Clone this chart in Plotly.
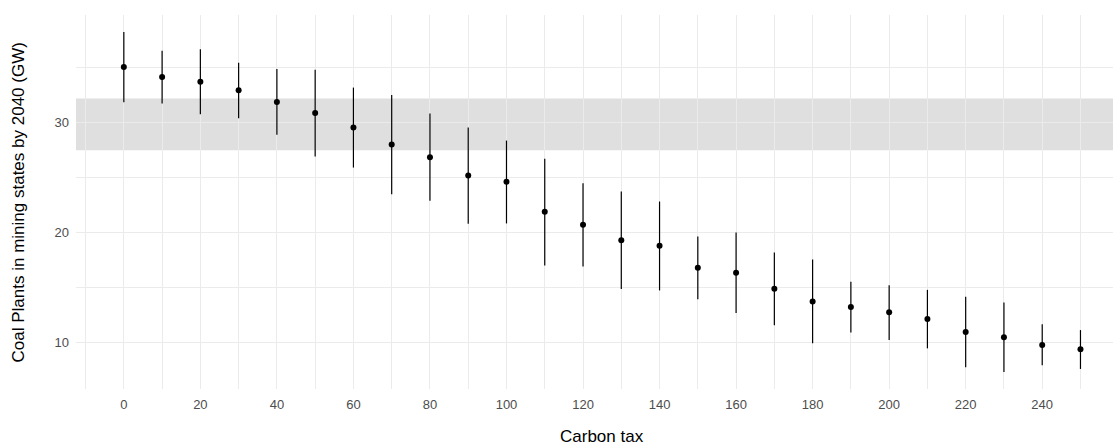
import plotly.graph_objects as go

# Carbon tax levels ($/t) and coal capacity estimates with uncertainty bounds
carbon_tax = [0, 10, 20, 30, 40, 50, 60, 70, 80, 90, 100, 110, 120, 130,
              140, 150, 160, 170, 180, 190, 200, 210, 220, 230, 240, 250]
coal_gw = [35.02, 34.11, 33.69, 32.90, 31.85, 30.85, 29.52, 27.98, 26.83,
           25.17, 24.60, 21.88, 20.70, 19.30, 18.79, 16.80, 16.35, 14.90,
           13.74, 13.23, 12.75, 12.14, 10.96, 10.48, 9.78, 9.39]
coal_low = [31.81, 31.70, 30.73, 30.36, 28.88, 26.89, 25.89, 23.47, 22.87,
            20.79, 20.82, 17.01, 16.92, 14.86, 14.74, 13.93, 12.68, 11.57,
            9.94, 10.93, 10.24, 9.48, 7.76, 7.33, 7.94, 7.61]
coal_high = [38.20, 36.50, 36.62, 35.41, 34.84, 34.78, 33.15, 32.48, 30.79,
             29.52, 28.34, 26.68, 24.47, 23.72, 22.81, 19.64, 20.00, 18.19,
             17.55, 15.53, 15.20, 14.79, 14.17, 13.65, 11.66, 11.14]

# Reference band for current capacity
band_low, band_high = 27.46, 32.15

x_ticks = [0, 20, 40, 60, 80, 100, 120, 140, 160, 180, 200, 220, 240]
x_minor = [-10, 10, 30, 50, 70, 90, 110, 130, 150, 170, 190, 210, 230, 250]
y_ticks = [10, 20, 30]
y_minor = [15, 25, 35]

x_title = "Carbon tax"
y_title = "Coal Plants in mining states by 2040 (GW)"

err_plus = [h - m for h, m in zip(coal_high, coal_gw)]
err_minus = [m - l for m, l in zip(coal_gw, coal_low)]

FONT = "Liberation Sans, Arial, sans-serif"
GRID = "#EBEBEB"
TICK_FONT = dict(size=13, color="#4D4D4D", family=FONT)
TITLE_FONT = dict(size=17, color="black", family=FONT)

fig = go.Figure()
fig.add_trace(go.Scatter(
    x=carbon_tax, y=coal_gw, mode="markers",
    marker=dict(color="black", size=6),
    error_y=dict(type="data", array=err_plus, arrayminus=err_minus,
                 symmetric=False, width=0, thickness=1.2, color="black"),
    showlegend=False, hoverinfo="x+y",
))

fig.add_shape(type="rect", xref="paper", yref="y", x0=0, x1=1,
              y0=band_low, y1=band_high, line=dict(width=0),
              fillcolor="rgba(127,127,127,0.25)", layer="between")

# Axis titles placed as annotations so they centre on the full panel
fig.add_annotation(text=x_title, xref="paper", yref="paper",
                   x=0.5077, y=-0.156, xanchor="center", yanchor="bottom",
                   showarrow=False, font=TITLE_FONT, borderpad=0)
fig.add_annotation(text=y_title, xref="paper", yref="paper",
                   x=-0.0555, y=0.5, xanchor="center", yanchor="middle",
                   textangle=-90, showarrow=False, font=TITLE_FONT)

fig.update_layout(
    width=1113, height=448,
    margin=dict(l=76, r=0, t=15, b=59),
    plot_bgcolor="white", paper_bgcolor="white",
    font=dict(family=FONT, color="#4D4D4D", size=13),
    xaxis=dict(
        range=[-12.5, 258.5], tickvals=x_ticks,
        showgrid=True, gridcolor=GRID, gridwidth=1.4, zeroline=False,
        showline=False, ticks="", ticklabelstandoff=6, tickfont=TICK_FONT,
        minor=dict(tickvals=x_minor, showgrid=True, gridcolor=GRID,
                   gridwidth=1),
    ),
    yaxis=dict(
        range=[5.79, 39.74], tickvals=y_ticks,
        showgrid=True, gridcolor=GRID, gridwidth=1.4, zeroline=False,
        showline=False, ticks="", ticklabelstandoff=6, tickfont=TICK_FONT,
        minor=dict(tickvals=y_minor, showgrid=True, gridcolor=GRID,
                   gridwidth=1),
    ),
)

fig.write_html("out.html")
